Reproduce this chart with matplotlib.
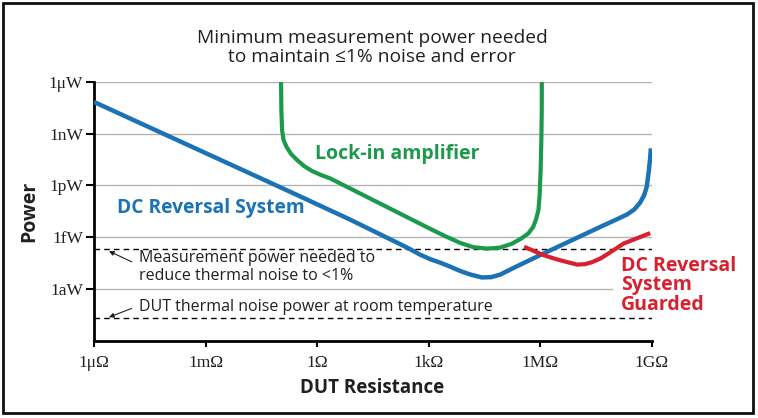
import numpy as np
import matplotlib
matplotlib.use("Agg")
import matplotlib.pyplot as plt
from matplotlib.patches import Rectangle

# =========================
# Data (log10 of resistance in ohm, log10 of power in W)
# =========================
blue_logr = [-6.000, -3.149, -0.728, 0.885, 2.410, 2.768, 3.037, 3.306, 3.575, 3.844,
             4.113, 4.428, 4.678, 4.920, 5.242, 5.547, 5.996, 6.757, 7.620, 8.013,
             8.328, 8.524, 8.685, 8.793, 8.860, 8.914, 8.954, 8.973]
blue_logp = [-7.161, -9.976, -12.367, -13.980, -15.594, -16.012, -16.273, -16.476, -16.708, -16.958,
             -17.161, -17.335, -17.318, -17.173, -16.824, -16.505, -16.041, -15.269, -14.398, -14.009,
             -13.690, -13.400, -12.994, -12.558, -12.094, -11.224, -10.411, -9.848]

green_logr = [-0.970, -0.962, -0.943, -0.903, -0.822, -0.701, -0.540, -0.352, -0.137, 0.105,
              0.347, 1.019, 1.692, 2.364, 3.037, 3.440, 3.844, 4.193, 4.570, 4.920,
              5.242, 5.484, 5.673, 5.807, 5.888, 5.950, 5.982, 6.009, 6.028, 6.039, 6.041]
green_logp = [-6.000, -7.625, -8.786, -9.366, -9.772, -10.179, -10.527, -10.875, -11.165, -11.397,
              -11.589, -12.320, -13.051, -13.783, -14.514, -14.938, -15.332, -15.576, -15.663, -15.605,
              -15.373, -15.083, -14.793, -14.416, -13.951, -13.429, -12.558, -11.107, -9.366, -7.625, -6.000]

red_logr = [5.565, 5.807, 6.084, 6.425, 6.757, 6.991, 7.206, 7.394, 7.620, 7.932,
            8.236, 8.577, 8.954]
red_logp = [-15.559, -15.780, -16.041, -16.273, -16.464, -16.592, -16.563, -16.447, -16.232, -15.809,
            -15.373, -15.083, -14.764]

meas_power = 10 ** -15.71     # power needed to reduce thermal noise to <1%
thermal_power = 10 ** -19.71  # DUT thermal noise power

x_ticks = [1e-6, 1e-3, 1e0, 1e3, 1e6, 1e9]
x_labels = ["1μΩ", "1mΩ", "1Ω", "1kΩ", "1MΩ", "1GΩ"]
y_ticks = [1e-18, 1e-15, 1e-12, 1e-9, 1e-6]
y_labels = ["1aW", "1fW", "1pW", "1nW", "1μW"]

BLUE = "#1b73b6"
GREEN = "#1c9a4c"
RED = "#d8212f"
TXT = "#231f20"

SANS = ["Open Sans", "DejaVu Sans"]
SERIF = ["Liberation Serif", "DejaVu Serif"]

plt.rcParams["font.family"] = SANS


def arr(v):
    return 10.0 ** np.asarray(v)


fig = plt.figure(figsize=(7.58, 4.18), dpi=100)
ax = fig.add_axes([0.124, 0.185, 0.736, 0.619])

ax.set_xscale("log")
ax.set_yscale("log")
ax.set_xlim(1e-6, 1e9)
ax.set_ylim(1e-21, 1e-6)

# grid lines; the 1aW one stops short of the red label
for y in y_ticks:
    xmax = 0.929 if y == 1e-18 else 1.0
    ax.axhline(y, xmax=xmax, color="#b4b4b4", lw=1.0, zorder=1)

ax.axhline(meas_power, color="black", lw=1.0, ls=(0, (4, 3)), zorder=2)
ax.axhline(thermal_power, color="black", lw=1.0, ls=(0, (4, 3)), zorder=2)

line_kw = dict(solid_capstyle="butt", solid_joinstyle="round")
ax.plot(arr(green_logr), arr(green_logp), color=GREEN, lw=3.0, zorder=4, **line_kw)
ax.plot(arr(blue_logr), arr(blue_logp), color=BLUE, lw=3.2, zorder=5, **line_kw)
ax.plot(arr(red_logr), arr(red_logp), color=RED, lw=3.0, zorder=6, **line_kw)

ax.set_xticks(x_ticks)
ax.set_xticklabels(x_labels, family=SERIF, fontsize=12.5, color=TXT)
ax.set_yticks(y_ticks)
ax.set_yticklabels(y_labels, family=SERIF, fontsize=12.5, color=TXT)
ax.minorticks_off()
ax.tick_params(axis="y", direction="out", length=6, width=1.5, pad=2)
ax.tick_params(axis="x", direction="out", length=4, width=1.5, pad=6)

for s in ["top", "right"]:
    ax.spines[s].set_visible(False)
for s in ["left", "bottom"]:
    ax.spines[s].set_linewidth(2.0)

fig.text(372 / 758, 1 - 388 / 418, "DUT Resistance", fontsize=13.5, fontweight="bold",
         color=TXT, ha="center", va="center")
fig.text(29 / 758, 1 - 211 / 418, "Power", fontsize=14, fontweight="bold",
         color=TXT, ha="center", va="center", rotation=90)

fig.text(0.491, 0.886, "Minimum measurement power needed\nto maintain ≤1% noise and error",
         ha="center", va="center", fontsize=13.8, color=TXT, linespacing=1.1)

# curve labels
ax.text(10 ** -0.056, 10 ** -10.18, "Lock-in amplifier", color=GREEN, fontsize=14,
        fontweight="bold", ha="left", va="center")
ax.text(10 ** -5.38, 10 ** -13.31, "DC Reversal System", color=BLUE, fontsize=13.8,
        fontweight="bold", ha="left", va="center")
ax.text(10 ** 8.175, 10 ** -17.80, "DC Reversal\nSystem\nGuarded", color=RED, fontsize=14,
        fontweight="bold", ha="left", va="center", linespacing=0.98, zorder=7)

# annotations
ax.text(10 ** -4.79, 10 ** -16.73, "Measurement power needed to\nreduce thermal noise to <1%",
        fontsize=11.5, color=TXT, ha="left", va="center", linespacing=1.1)
ax.text(10 ** -4.79, 10 ** -19.06, "DUT thermal noise power at room temperature",
        fontsize=11.5, color=TXT, ha="left", va="center")
arrow_kw = dict(arrowstyle="-|>", color=TXT, lw=0.8, mutation_scale=7, shrinkA=0, shrinkB=0)
ax.annotate("", xy=(10 ** -5.597, 10 ** -15.81), xytext=(10 ** -4.986, 10 ** -16.43),
            arrowprops=arrow_kw)
ax.annotate("", xy=(10 ** -5.597, 10 ** -19.64), xytext=(10 ** -4.986, 10 ** -19.13),
            arrowprops=arrow_kw)

fig.patches.append(Rectangle((0.004, 0.012), 0.990, 0.981, transform=fig.transFigure,
                             fill=False, edgecolor="#111111", lw=2.0))

fig.savefig("out.png", dpi=100)
